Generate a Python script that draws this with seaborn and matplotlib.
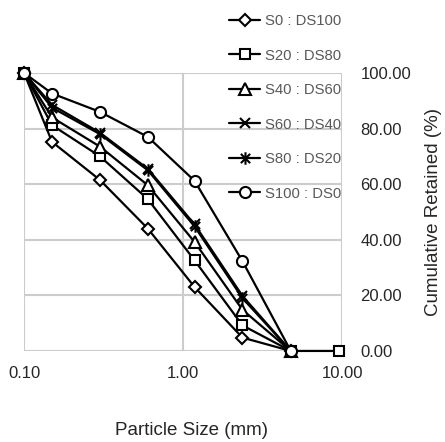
import matplotlib
matplotlib.use('Agg')
import matplotlib.pyplot as plt
import seaborn as sns
from matplotlib.path import Path
from matplotlib.ticker import FixedLocator, NullLocator, FormatStrFormatter

# sieve sizes (mm) and cumulative retained (%)
sizes = [0.1, 0.15, 0.3, 0.6, 1.18, 2.36, 4.75]
sizes_s20 = [0.1, 0.15, 0.3, 0.6, 1.18, 2.36, 4.75, 9.5]

s0 = [100, 75.2, 61.5, 44.0, 23.0, 4.8, 0]
s20 = [100, 81.2, 70.0, 54.6, 32.6, 9.2, 0, 0]
s40 = [100, 84.0, 73.5, 59.6, 39.2, 14.8, 0]
s60 = [100, 88.5, 78.5, 65.5, 45.5, 19.8, 0]
s80 = [100, 87.5, 78.0, 65.0, 44.8, 19.0, 0]
s100 = [100, 92.6, 86.0, 77.0, 61.2, 32.3, 0]

labels = ['S0 : DS100', 'S20 : DS80', 'S40 : DS60', 'S60 : DS40', 'S80 : DS20', 'S100 : DS0']

# asterisk marker like Excel's "star" (x plus vertical bar)
star = Path([(-1, -1), (1, 1), (-1, 1), (1, -1), (0, -1.35), (0, 1.35)],
            [Path.MOVETO, Path.LINETO, Path.MOVETO, Path.LINETO, Path.MOVETO, Path.LINETO])

series = [
    (sizes, s0, 'D', 6.0),
    (sizes_s20, s20, 's', 7.5),
    (sizes, s40, '^', 8.5),
    (sizes, s60, 'x', 7.5),
    (sizes, s80, star, 9.0),
    (sizes, s100, 'o', 8.0),
]

sns.set_style('whitegrid', {'grid.color': '#cccccc'})
plt.rcParams['font.family'] = ['Liberation Sans', 'DejaVu Sans']

fig = plt.figure(figsize=(4.45, 4.42), dpi=100)
ax = fig.add_axes([0.054, 0.206, 0.715, 0.629])

for (xs, ys, mk, ms), lab in zip(series, labels):
    sns.lineplot(x=xs, y=ys, ax=ax, color='black', linewidth=1.6, marker=mk,
                 markersize=ms, markerfacecolor='white', markeredgecolor='black',
                 markeredgewidth=1.5, clip_on=False, label=lab, sort=False)

ax.set_xscale('log')
ax.set_xlim(0.1, 10)
ax.set_ylim(0, 100)
ax.xaxis.set_major_locator(FixedLocator([0.1, 1, 10]))
ax.xaxis.set_minor_locator(NullLocator())
ax.xaxis.set_major_formatter(FormatStrFormatter('%.2f'))
ax.yaxis.set_major_locator(FixedLocator([0, 20, 40, 60, 80, 100]))
ax.yaxis.set_major_formatter(FormatStrFormatter('%.2f'))
ax.yaxis.tick_right()
ax.yaxis.set_label_position('right')

ax.set_axisbelow(True)
ax.xaxis.grid(True, which='major', color='#cccccc', linewidth=1.5)
ax.yaxis.grid(True, which='major', color='#cccccc', linewidth=1.5)
for sp in ax.spines.values():
    sp.set_visible(False)
ax.tick_params(length=0, labelsize=12, labelcolor='#262626')
ax.tick_params(axis='x', pad=11)
ax.tick_params(axis='y', pad=13)

ax.set_xlabel('Particle Size (mm)', fontsize=13.5, color='#262626', labelpad=29, x=0.527)
ax.set_ylabel('Cumulative Retained (%)', fontsize=13.5, color='#262626', labelpad=10)

h, l = ax.get_legend_handles_labels()
ax.legend(h, l, loc='upper left', bbox_to_anchor=(0.515, 0.968),
          bbox_transform=fig.transFigure, frameon=False, fontsize=10.7,
          labelcolor='#595959', handlelength=2.1, handletextpad=0.3,
          labelspacing=1.38, borderpad=0, borderaxespad=0)

fig.savefig('out.png', dpi=100)
